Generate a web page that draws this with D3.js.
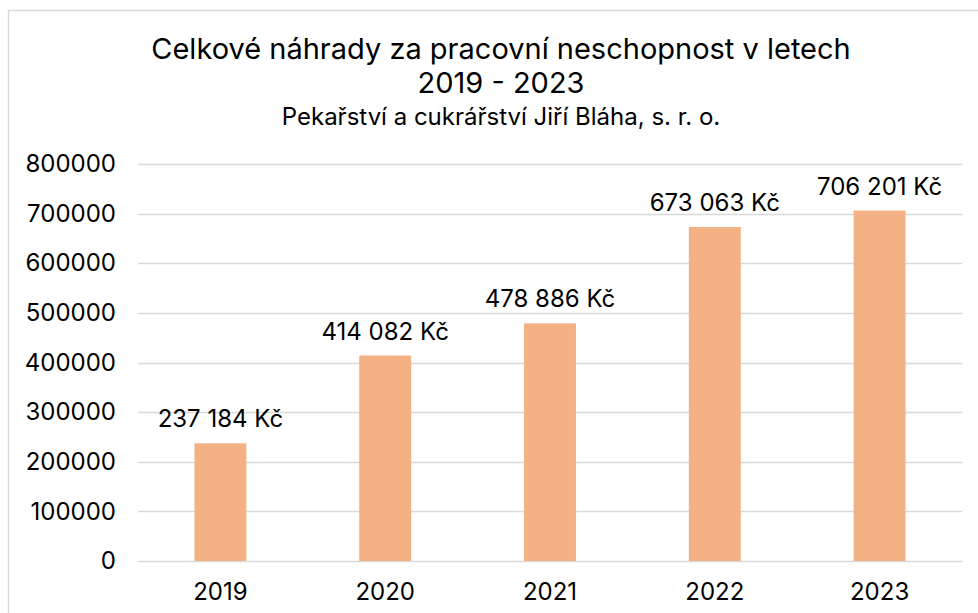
<!DOCTYPE html>
<html>
<head>
<meta charset="utf-8">
<script src="https://cdn.jsdelivr.net/npm/d3@7"></script>
<style>
  body { margin: 0; background: #fff; }
  text { font-family: Inter, "Noto Sans", sans-serif; fill: #000; }
</style>
</head>
<body>
<div id="bar_chart"></div>
<script>
// data
var years = ["2019", "2020", "2021", "2022", "2023"];
var amounts = [237184, 414082, 478886, 673063, 706201];
var yTicks = [0, 100000, 200000, 300000, 400000, 500000, 600000, 700000, 800000];

function init(){
    var w = 978;
    var h = 613;
    var svg = d3.select("#bar_chart").append("svg")
                .attr("width", w)
                .attr("height", h);

    // chart border
    svg.append("rect")
        .attr("x", 8.5).attr("y", 10.5)
        .attr("width", 1000).attr("height", 700)
        .attr("fill", "none")
        .attr("stroke", "#d9d9d9")
        .attr("stroke-width", 1.5);

    // titles
    svg.append("text").attr("x", 501).attr("y", 59)
        .attr("text-anchor", "middle").style("font-size", "29px")
        .text("Celkové náhrady za pracovní neschopnost v letech");
    svg.append("text").attr("x", 501).attr("y", 93)
        .attr("text-anchor", "middle").style("font-size", "29px")
        .text("2019 - 2023");
    svg.append("text").attr("x", 501).attr("y", 125)
        .attr("text-anchor", "middle").style("font-size", "24px")
        .text("Pekařství a cukrářství Jiří Bláha, s. r. o.");

    // scales
    var xScale = d3.scaleBand()
                .domain(years)
                .range([138, 962]);
    var barW = xScale.step() * 0.315;

    var yScale = d3.scaleLinear()
                .domain([0, 800000])
                .range([561, 164]);

    // gridlines
    svg.selectAll(".grid")
        .data(yTicks)
        .enter()
        .append("line")
        .attr("class", "grid")
        .attr("x1", 138).attr("x2", 962)
        .attr("y1", d => Math.round(yScale(d)) + 0.5)
        .attr("y2", d => Math.round(yScale(d)) + 0.5)
        .attr("stroke", "#d9d9d9")
        .attr("stroke-width", 1.5);

    // y axis labels
    var yAxis = d3.axisLeft(yScale)
                .tickValues(yTicks)
                .tickFormat(d3.format("d"))
                .tickSize(0)
                .tickPadding(0);
    var gy = svg.append("g")
        .attr("transform", "translate(116,0)")
        .call(yAxis);
    gy.select(".domain").remove();
    gy.selectAll("text").style("font-size", "24px").attr("font-family", null);

    // bars
    var data = years.map((y, i) => [y, amounts[i]]);
    svg.selectAll(".bar")
        .data(data)
        .enter()
        .append("rect")
        .attr("class", "bar")
        .attr("x", d => xScale(d[0]) + xScale.bandwidth() / 2 - barW / 2)
        .attr("y", d => yScale(d[1]))
        .attr("width", barW)
        .attr("height", d => yScale(0) - yScale(d[1]))
        .attr("fill", "#f4b183");

    // value labels (czech format, space as thousands separator)
    var fmt = d3.formatLocale({decimal: ",", thousands: "\u00a0", grouping: [3], currency: ["", " Kč"]}).format(",");
    svg.selectAll(".MyText")
        .data(data)
        .enter()
        .append("text")
        .attr("class", "MyText")
        .attr("x", d => xScale(d[0]) + xScale.bandwidth() / 2)
        .attr("y", d => yScale(d[1]) - 16)
        .attr("text-anchor", "middle")
        .style("font-size", "24px")
        .text(d => fmt(d[1]) + " Kč");

    // x axis labels
    var xAxis = d3.axisBottom(xScale).tickSize(0).tickPadding(0);
    var gx = svg.append("g")
        .attr("transform", "translate(0,583)")
        .call(xAxis);
    gx.select(".domain").remove();
    gx.selectAll("text").style("font-size", "24px").attr("font-family", null);
}
window.onload = init;
</script>
</body>
</html>
